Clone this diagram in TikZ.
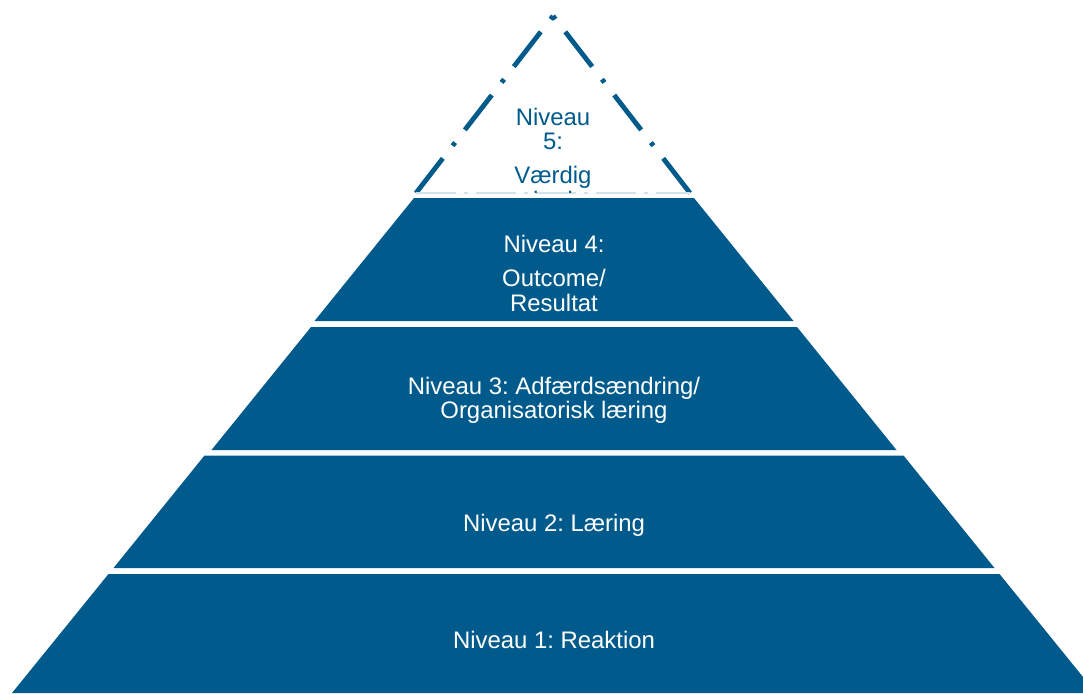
\documentclass[tikz,border=0pt]{standalone}
\usepackage{fontspec}
\setmainfont{Liberation Sans}
\frenchspacing
\definecolor{pblue}{RGB}{0,91,140}
\definecolor{pfaint}{RGB}{214,224,232}
\begin{document}
\begin{tikzpicture}[x=1pt,y=-1pt,
  band/.style={fill=pblue,draw=none},
  lbl/.style={text=white,anchor=base,inner sep=0pt,font=\fontsize{23.9}{25}\selectfont},
  toplbl/.style={text=pblue,anchor=base,inner sep=0pt,font=\fontsize{23.9}{25}\selectfont},
  dashedge/.style={draw=pblue,line width=4.8pt,dash pattern=on 4pt off 16pt on 44pt off 16pt}]
\useasboundingbox (0,0) rectangle (1083,693);
% dashed top triangle
\coordinate (apex) at (553,16);
\coordinate (tl) at (416,193);
\coordinate (tr) at (690,193);
\draw[dashedge] (apex) -- (tl);
\draw[dashedge] (apex) -- (tr);
\draw[draw=pfaint,line width=1.2pt,dash pattern=on 40pt off 8pt on 4pt off 8pt] (tl) -- (tr);
\begin{scope}
\clip (400,0) rectangle (700,192.5);
\node[toplbl] (n5a) at (553,125) {Niveau};
\node[toplbl] (n5b) at (553,149) {5:};
\node[toplbl] (n5c) at (553,183) {Værdig};
\node[toplbl] (n5d) at (553,208) {hed};
\end{scope}
% bands
\fill[band] (414,198) -- (694,198) -- (793.5,321) -- (314.5,321) -- cycle;
\fill[band] (311,327) -- (797,327) -- (896.5,450) -- (211.5,450) -- cycle;
\fill[band] (204.5,455.5) -- (903.5,455.5) -- (994.5,568) -- (113.5,568) -- cycle;
\fill[band] (108.5,574) -- (999.5,574) -- (1096,693) -- (12,693) -- cycle;
% labels
\node[lbl] (n4a) at (554,252) {Niveau 4:};
\node[lbl] (n4b) at (554,286) {Outcome/};
\node[lbl] (n4c) at (554,311) {Resultat};
\node[lbl] (n3a) at (554,394) {Niveau 3: Adfærdsændring/};
\node[lbl] (n3b) at (554,418) {Organisatorisk læring};
\node[lbl] (n2) at (554,531) {Niveau 2: Læring};
\node[lbl] (n1) at (554,648) {Niveau 1: Reaktion};
\end{tikzpicture}
\end{document}
